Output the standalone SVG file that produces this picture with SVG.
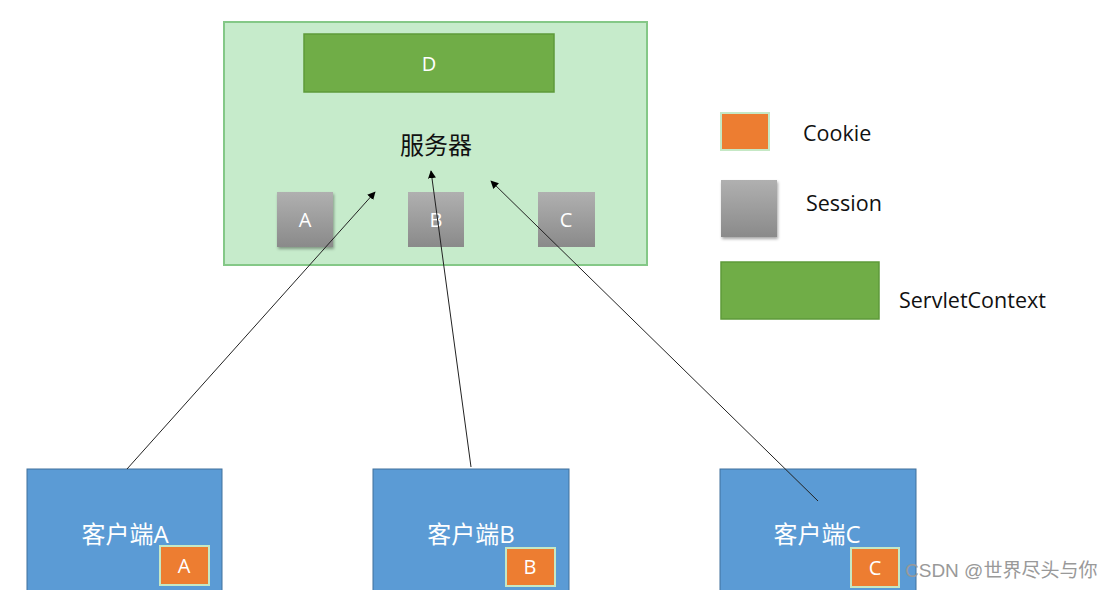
<svg xmlns="http://www.w3.org/2000/svg" width="1113" height="590" viewBox="0 0 1113 590">
<defs>
<linearGradient id="gray" x1="0" y1="0" x2="0" y2="1">
<stop offset="0" stop-color="#b0b0b0"/>
<stop offset="1" stop-color="#8a8a8a"/>
</linearGradient>
<filter id="sh" x="-20%" y="-20%" width="150%" height="150%">
<feDropShadow dx="1" dy="2" stdDeviation="1.5" flood-color="#000" flood-opacity="0.35"/>
</filter>
<marker id="arr" viewBox="0 0 10 10" refX="9" refY="5" markerWidth="8" markerHeight="8" markerUnits="userSpaceOnUse" orient="auto">
<path d="M0,0 L10,5 L0,10 z" fill="#000"/>
</marker>
</defs>
<style>
.lbl{font-family:"Open Sans","Liberation Sans","Noto Sans CJK SC",sans-serif;fill:#fff;text-anchor:middle}
.leg{font-family:"Open Sans","Liberation Sans",sans-serif;font-size:21.5px;fill:#111}
.sess{fill:url(#gray)}
.client{fill:#5B9BD5;stroke:#41719C;stroke-width:1}
.cookie{fill:#ED7D31;stroke:#C5E8C5;stroke-width:2}
.conn{stroke:#222;stroke-width:1;fill:none;marker-end:url(#arr)}
</style>
<rect width="1113" height="590" fill="#fff"/>
<g id="server">
<rect x="224" y="22" width="423" height="243" fill="#C6EBCB" stroke="#84C887" stroke-width="2"/>
<text x="436" y="154" font-family="'Noto Sans CJK SC',sans-serif" font-size="24" fill="#111" text-anchor="middle">服务器</text>
</g>
<g id="servletcontext-d">
<rect x="304" y="34" width="250" height="58" fill="#70AD47" stroke="#5E9A3A" stroke-width="1.5"/>
<text class="lbl" x="429" y="71" font-size="20">D</text>
</g>
<g id="session-a">
<rect class="sess" x="277" y="192" width="56" height="55" filter="url(#sh)"/>
<text class="lbl" x="305" y="227" font-size="20">A</text>
</g>
<g id="session-b">
<rect class="sess" x="408" y="192" width="56" height="55"/>
<text class="lbl" x="436" y="227" font-size="20">B</text>
</g>
<g id="session-c">
<rect class="sess" x="538" y="192" width="57" height="55"/>
<text class="lbl" x="566" y="227" font-size="20">C</text>
</g>
<g id="client-a">
<rect class="client" x="27" y="469" width="195" height="130"/>
<text class="lbl" x="125" y="543" font-size="24">客户端A</text>
<rect class="cookie" x="160" y="546" width="49" height="39"/>
<text class="lbl" x="184" y="573" font-size="20">A</text>
</g>
<g id="client-b">
<rect class="client" x="373" y="469" width="196" height="130"/>
<text class="lbl" x="471" y="543" font-size="24">客户端B</text>
<rect class="cookie" x="506" y="548" width="49" height="38"/>
<text class="lbl" x="530" y="574" font-size="20">B</text>
</g>
<g id="client-c">
<rect class="client" x="720" y="469" width="196" height="130"/>
<text class="lbl" x="817" y="543" font-size="24">客户端C</text>
<rect class="cookie" x="851" y="548" width="48" height="39"/>
<text class="lbl" x="875" y="575" font-size="20">C</text>
</g>
<g id="connectors">
<line class="conn" x1="127" y1="469" x2="375" y2="192"/>
<line class="conn" x1="471" y1="467" x2="431" y2="171"/>
<line class="conn" x1="818" y1="501" x2="491" y2="181"/>
</g>
<g id="legend-cookie">
<rect x="721" y="113" width="48" height="37" fill="#ED7D31" stroke="#C5E8C5" stroke-width="2"/>
<text class="leg" x="803" y="141">Cookie</text>
</g>
<g id="legend-session">
<rect class="sess" x="721" y="180" width="56" height="57" filter="url(#sh)"/>
<text class="leg" x="806" y="211">Session</text>
</g>
<g id="legend-servletcontext">
<rect x="721" y="262" width="158" height="57" fill="#70AD47" stroke="#5E9A3A" stroke-width="1.5"/>
<text class="leg" x="899" y="308">ServletContext</text>
</g>
<text x="905" y="577" font-family="'Liberation Sans','Noto Sans CJK SC',sans-serif" font-size="19" fill="#999">CSDN @世界尽头与你</text>
</svg>
